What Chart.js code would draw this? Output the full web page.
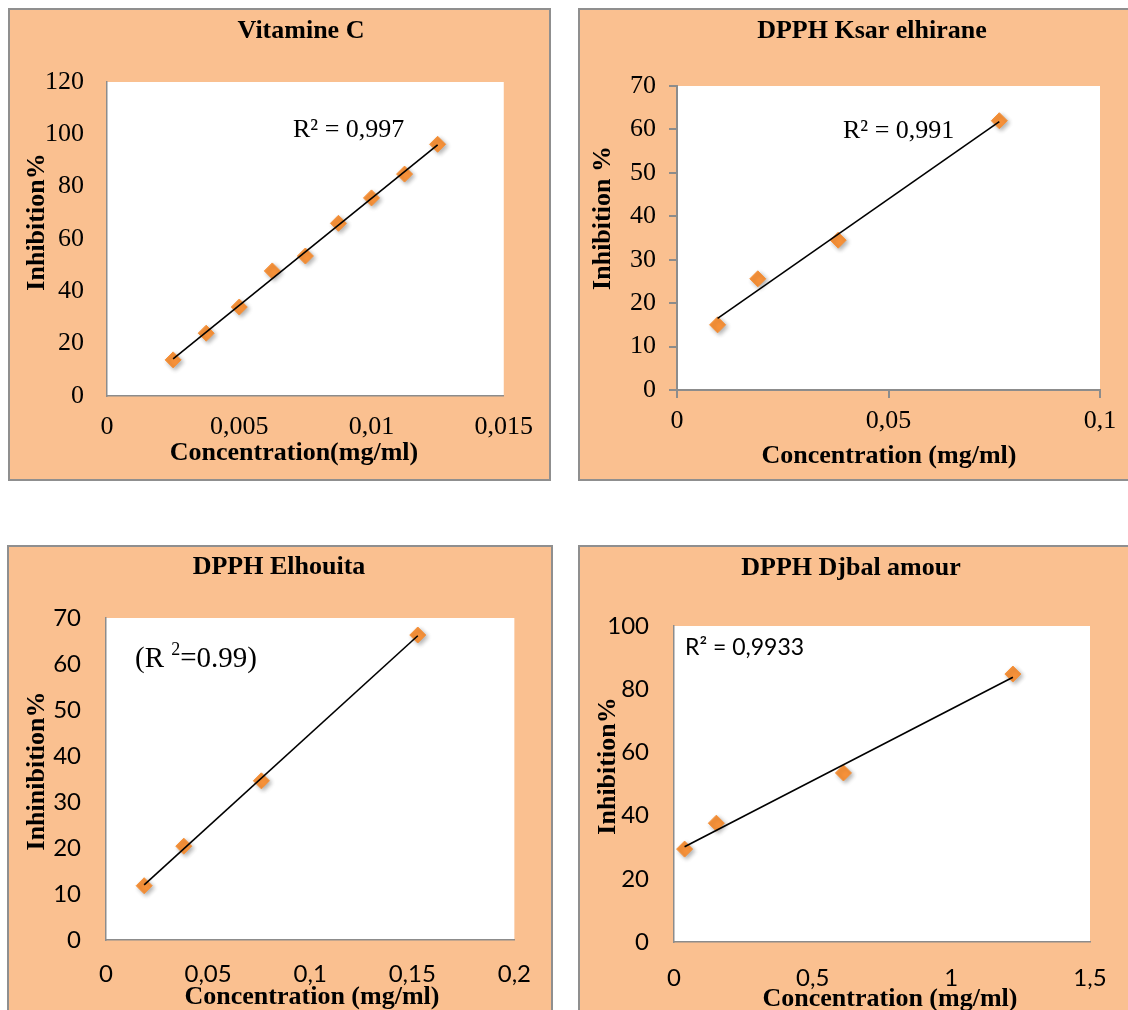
<!DOCTYPE html>
<html lang="fr">
<head>
  <meta charset="UTF-8" />
  <title>Inhibition DPPH</title>
  <script src="https://cdn.jsdelivr.net/npm/chart.js"></script>
  <style>
    html, body { margin: 0; padding: 0; background: #fff; width: 1128px; height: 1010px; overflow: hidden; position: relative; }
    .panel { position: absolute; background: #FAC090; border: 2px solid #8f8f8f; }
    .panel canvas { display: block; }
  </style>
</head>
<body>
  <!-- 4 graphiques -->
  <div class="panel" style="left:8px;top:8px;width:539px;height:469px"><canvas id="c1" width="539" height="469"></canvas></div>
  <div class="panel" style="left:578px;top:8px;width:556px;height:469px"><canvas id="c2" width="556" height="469"></canvas></div>
  <div class="panel" style="left:7px;top:545px;width:542px;height:476px"><canvas id="c3" width="542" height="476"></canvas></div>
  <div class="panel" style="left:578px;top:545px;width:556px;height:476px"><canvas id="c4" width="556" height="476"></canvas></div>

  <script>
    // données
    const vitCX = [0.0025, 0.00375, 0.005, 0.00625, 0.0075, 0.00875, 0.01, 0.01125, 0.0125];
    const vitCY = [13.8, 24.0, 34.0, 47.8, 53.5, 66.0, 75.7, 84.8, 96.2];

    const ksarX = [0.0096, 0.0191, 0.0381, 0.0762];
    const ksarY = [15.0, 25.6, 34.5, 62.0];

    const houitaX = [0.0187, 0.0381, 0.0761, 0.1527];
    const houitaY = [11.8, 20.4, 34.6, 66.3];

    const djbalX = [0.0382, 0.1527, 0.611, 1.222];
    const djbalY = [29.4, 37.6, 53.5, 84.8];

    // axes
    const vitCTicks = { xMax: 0.015, xStep: 0.005, yMax: 120, yStep: 20 };
    const ksarTicks = { xMax: 0.1, xStep: 0.05, yMax: 70, yStep: 10 };
    const houitaTicks = { xMax: 0.2, xStep: 0.05, yMax: 70, yStep: 10 };
    const djbalTicks = { xMax: 1.5, xStep: 0.5, yMax: 100, yStep: 20 };

    const SERIF = '"Liberation Serif", "Times New Roman", serif';
    const SANS = 'Lato, "Open Sans", sans-serif';
    const AXIS = '#8c8c8c';
    const ORANGE = '#F7923A';

    function comma(v) { return String(+Number(v).toFixed(6)).replace('.', ','); }

    // droite de régression (moindres carrés)
    function linFit(xs, ys) {
      const n = xs.length;
      const mx = xs.reduce((a, b) => a + b, 0) / n;
      const my = ys.reduce((a, b) => a + b, 0) / n;
      let sxx = 0, sxy = 0;
      xs.forEach((x, i) => { sxx += (x - mx) * (x - mx); sxy += (x - mx) * (ys[i] - my); });
      const b = sxy / sxx, a = my - b * mx;
      const x0 = Math.min(...xs), x1 = Math.max(...xs);
      return [{ x: x0, y: a + b * x0 }, { x: x1, y: a + b * x1 }];
    }

    const plotBg = {
      id: 'plotBg',
      beforeDraw(chart) {
        const { ctx, chartArea: a } = chart;
        ctx.save();
        ctx.fillStyle = '#fff';
        ctx.fillRect(a.left, a.top, a.width, a.height);
        ctx.restore();
      }
    };

    // ombre sous les losanges
    const markerShadow = {
      id: 'markerShadow',
      beforeDatasetDraw(chart, args) {
        if (args.index !== 1) return;
        const c = chart.ctx;
        c.save();
        c.shadowColor = 'rgba(0,0,0,0.3)';
        c.shadowBlur = 4;
        c.shadowOffsetX = 2;
        c.shadowOffsetY = 2;
      },
      afterDatasetDraw(chart, args) {
        if (args.index === 1) chart.ctx.restore();
      }
    };

    function textPlugin(items) {
      return {
        id: 'panelText',
        afterDraw(chart) {
          const ctx = chart.ctx;
          items.forEach(it => {
            ctx.save();
            ctx.translate(it.x, it.y);
            if (it.rotate) ctx.rotate(-Math.PI / 2);
            ctx.fillStyle = '#000';
            ctx.textBaseline = 'middle';
            ctx.textAlign = 'left';
            const parts = it.parts || [{ t: it.text, font: it.font }];
            const w = parts.reduce((s, p) => { ctx.font = p.font; return s + ctx.measureText(p.t).width; }, 0);
            let x = it.align === 'left' ? 0 : -w / 2;
            parts.forEach(p => {
              ctx.font = p.font;
              ctx.fillText(p.t, x, p.dy || 0);
              x += ctx.measureText(p.t).width;
            });
            ctx.restore();
          });
        }
      };
    }

    function panel(id, xs, ys, ax, o) {
      const tickFont = { family: o.tickFamily, size: o.tickSize };
      const grid = o.ticks
        ? { display: true, drawOnChartArea: false, drawTicks: true, tickLength: 8, color: AXIS, lineWidth: 2 }
        : { display: false, drawTicks: false };
      new Chart(document.getElementById(id), {
        type: 'scatter',
        data: {
          datasets: [
            { data: linFit(xs, ys), showLine: true, borderColor: '#000', borderWidth: 1.6, pointRadius: 0 },
            { data: xs.map((x, i) => ({ x: x, y: ys[i] })), pointStyle: 'rectRot', pointRadius: 8,
              backgroundColor: ORANGE, borderColor: ORANGE, borderWidth: 1 }
          ]
        },
        options: {
          responsive: false,
          animation: false,
          layout: { padding: { top: o.top, right: o.right, bottom: 0, left: 0 } },
          plugins: { legend: { display: false }, tooltip: { enabled: false } },
          scales: {
            x: {
              type: 'linear', min: 0, max: ax.xMax,
              ticks: { stepSize: ax.xStep, callback: v => comma(v), font: tickFont, color: '#000', padding: o.xPad, maxRotation: 0 },
              grid: grid,
              border: { color: AXIS, width: o.axisW },
              afterFit(s) { s.height = o.xH; }
            },
            y: {
              type: 'linear', min: 0, max: ax.yMax,
              ticks: { stepSize: ax.yStep, callback: v => comma(v), font: tickFont, color: '#000', padding: o.yPad },
              grid: grid,
              border: { color: AXIS, width: o.axisW },
              afterFit(s) { s.width = o.yW; }
            }
          }
        },
        plugins: [plotBg, markerShadow, textPlugin(o.texts)]
      });
    }

    const bold26 = 'bold 26px ' + SERIF;

    panel('c1', vitCX, vitCY, vitCTicks, {
      top: 72, right: 44, yW: 97, xH: 83, xPad: 16, yPad: 23, axisW: 1.5, ticks: false,
      tickFamily: SERIF, tickSize: 26,
      texts: [
        { text: 'Vitamine C', font: bold26, x: 291, y: 21 },
        { text: 'Inhibition%', font: bold26, x: 27, y: 212, rotate: true },
        { text: 'Concentration(mg/ml)', font: bold26, x: 284, y: 443 },
        { text: 'R² = 0,997', font: '26px ' + SERIF, x: 283, y: 120, align: 'left' }
      ]
    });

    panel('c2', ksarX, ksarY, ksarTicks, {
      top: 76, right: 36, yW: 97, xH: 89, xPad: 8, yPad: 13, axisW: 2, ticks: true,
      tickFamily: SERIF, tickSize: 26,
      texts: [
        { text: 'DPPH Ksar elhirane', font: bold26, x: 292, y: 21 },
        { text: 'Inhibition %', font: bold26, x: 23, y: 208, rotate: true },
        { text: 'Concentration (mg/ml)', font: bold26, x: 309, y: 446 },
        { text: 'R² = 0,991', font: '26px ' + SERIF, x: 263, y: 121, align: 'left' }
      ]
    });

    panel('c3', houitaX, houitaY, houitaTicks, {
      top: 71, right: 32, yW: 97, xH: 83, xPad: 20, yPad: 25, axisW: 1.5, ticks: false,
      tickFamily: SANS, tickSize: 24,
      texts: [
        { text: 'DPPH Elhouita', font: bold26, x: 270, y: 20 },
        { text: 'Inhinibition%', font: bold26, x: 28, y: 224, rotate: true },
        { text: 'Concentration (mg/ml)', font: bold26, x: 303, y: 450 },
        { parts: [
            { t: '(R ', font: '29px ' + SERIF },
            { t: '2', font: '18px ' + SERIF, dy: -9 },
            { t: '=0.99)', font: '29px ' + SERIF }
          ], x: 126, y: 112, align: 'left' }
      ]
    });

    panel('c4', djbalX, djbalY, djbalTicks, {
      top: 79, right: 46, yW: 94, xH: 81, xPad: 22, yPad: 25, axisW: 1.5, ticks: false,
      tickFamily: SANS, tickSize: 24,
      texts: [
        { text: 'DPPH Djbal amour', font: bold26, x: 271, y: 21 },
        { text: 'Inhibition%', font: bold26, x: 28, y: 219, rotate: true },
        { text: 'Concentration (mg/ml)', font: bold26, x: 310, y: 452 },
        { text: 'R² = 0,9933', font: '23px ' + SANS, x: 105, y: 101, align: 'left' }
      ]
    });
  </script>
</body>
</html>
